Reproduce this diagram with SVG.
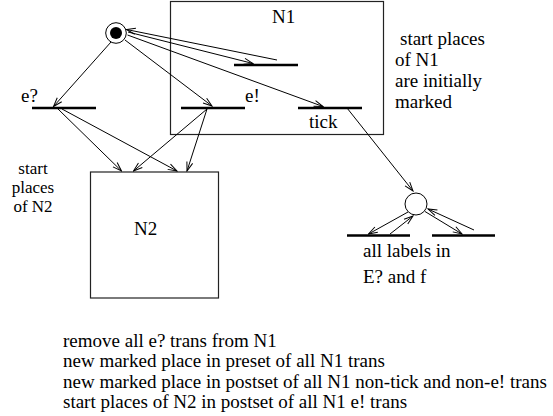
<svg xmlns="http://www.w3.org/2000/svg" width="553" height="416" viewBox="0 0 553 416">
<style>
text{font-family:'Liberation Serif','DejaVu Serif',serif;font-size:19px;fill:#000}
.small{font-size:17px}
.box{fill:none;stroke:#222;stroke-width:1.2}
.bar{stroke:#000;stroke-width:2.6;fill:none}
.place{fill:#fff;stroke:#000;stroke-width:1}
.arc{stroke:#000;stroke-width:1;fill:none;marker-end:url(#ah)}
</style>
<defs>
<marker id="ah" markerUnits="userSpaceOnUse" viewBox="-10 -5 11 10" refX="0" refY="0" markerWidth="11" markerHeight="10" orient="auto">
<path d="M-9,-3 L0,0 L-9,3" fill="none" stroke="#000" stroke-width="1"/>
</marker>
</defs>
<g id="N1">
<rect class="box" x="170.5" y="1.5" width="213" height="133"/>
<text x="272" y="23">N1</text>
</g>
<g id="N2">
<rect class="box" x="90.5" y="172" width="128" height="126"/>
<text x="134" y="235">N2</text>
</g>
<g id="p0">
<circle class="place" cx="116" cy="33" r="10.3"/>
<circle cx="116" cy="33" r="6" fill="#000"/>
</g>
<g id="t_e_in">
<line class="bar" x1="32" y1="108" x2="96" y2="108"/>
<text x="21" y="102">e?</text>
</g>
<g id="t_e_out">
<line class="bar" x1="181" y1="108" x2="245" y2="108"/>
<text x="245" y="102">e!</text>
</g>
<g id="t_inner">
<line class="bar" x1="234" y1="65" x2="298" y2="65"/>
</g>
<g id="t_tick">
<line class="bar" x1="298" y1="108" x2="362" y2="108"/>
<text x="309" y="128">tick</text>
</g>
<g id="p1">
<circle class="place" cx="416" cy="204" r="11"/>
</g>
<g id="t_l1">
<line class="bar" x1="347" y1="235.5" x2="410" y2="235.5"/>
</g>
<g id="t_l2">
<line class="bar" x1="432" y1="235.5" x2="495" y2="235.5"/>
</g>
<g id="connectors">
<line class="arc" x1="111" y1="42" x2="53.5" y2="106.5"/>
<line class="arc" x1="125" y1="40" x2="212" y2="106"/>
<line class="arc" x1="127.5" y1="35" x2="323" y2="106.5"/>
<line class="arc" x1="128" y1="32" x2="253" y2="63.5"/>
<line class="arc" x1="277" y1="60" x2="126.5" y2="29.5"/>
<line class="arc" x1="58" y1="109" x2="121.5" y2="171"/>
<line class="arc" x1="62" y1="109" x2="177" y2="171"/>
<line class="arc" x1="207" y1="109" x2="133.5" y2="171"/>
<line class="arc" x1="207" y1="109" x2="187" y2="171"/>
<line class="arc" x1="347" y1="108" x2="413" y2="191"/>
<line class="arc" x1="408" y1="212" x2="368.5" y2="234"/>
<line class="arc" x1="390" y1="234" x2="413" y2="216"/>
<line class="arc" x1="425" y1="211.5" x2="462" y2="234"/>
<line class="arc" x1="474" y1="230" x2="428" y2="209"/>
</g>
<g id="labels">
<text x="400" y="44.5">start places</text>
<text x="395" y="65.5">of N1</text>
<text x="395" y="86.5">are initially</text>
<text x="395" y="107.5">marked</text>
<text class="small" x="33" y="174" text-anchor="middle">start</text>
<text class="small" x="33" y="193" text-anchor="middle">places</text>
<text class="small" x="33" y="212" text-anchor="middle">of N2</text>
<text x="363" y="257">all labels in</text>
<text x="363" y="283">E? and f</text>
<text x="63" y="346.5">remove all e? trans from N1</text>
<text x="63" y="367">new marked place in preset of all N1 trans</text>
<text x="63" y="387.5">new marked place in postset of all N1 non-tick and non-e! trans</text>
<text x="63" y="408">start places of N2 in postset of all N1 e! trans</text>
</g>
</svg>
